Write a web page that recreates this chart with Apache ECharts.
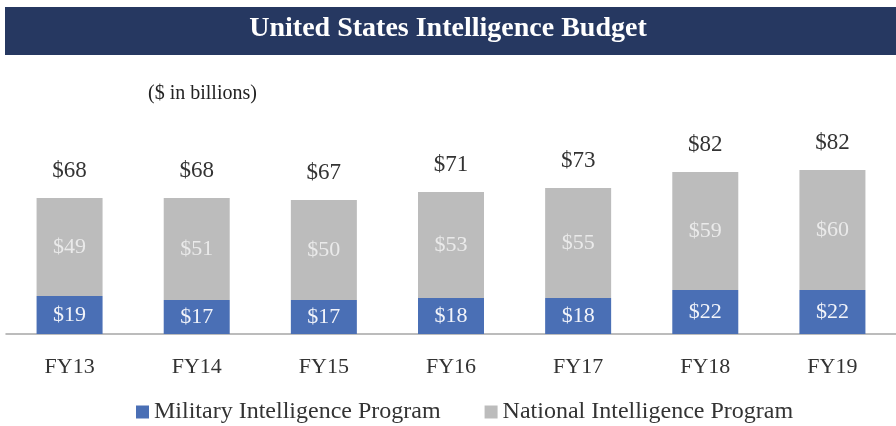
<!DOCTYPE html>
<html lang="en">
<head>
    <meta charset="UTF-8">
    <title>United States Intelligence Budget</title>
    <script src="https://cdn.jsdelivr.net/npm/echarts@6/dist/echarts.min.js"></script>
    <style>
        html, body { margin: 0; padding: 0; background: #fff; }
        #chart { width: 896px; height: 426px; }
    </style>
</head>
<body>
<div id="chart"></div>
<script>
    // 数据 ($ in billions)
    var years = ['FY13', 'FY14', 'FY15', 'FY16', 'FY17', 'FY18', 'FY19'];
    var mip = [19, 17, 17, 18, 18, 22, 22];
    var nip = [49, 51, 50, 53, 55, 59, 60];
    var totals = [68, 68, 67, 71, 73, 82, 82];
    var zeros = [0, 0, 0, 0, 0, 0, 0];

    var serif = '"Liberation Serif", "DejaVu Serif", serif';
    var myChart = echarts.init(document.getElementById('chart'));

    var option = {
        animation: false,
        textStyle: { fontFamily: serif },
        graphic: [
            {
                type: 'rect',
                shape: { x: 5, y: 7, width: 891, height: 48 },
                style: { fill: '#263861' }
            },
            {
                type: 'text',
                left: 'center',
                top: 15,
                style: {
                    text: 'United States Intelligence Budget',
                    fill: '#ffffff',
                    font: 'bold 28px ' + serif
                }
            },
            {
                type: 'text',
                left: 148,
                top: 84,
                style: {
                    text: '($ in billions)',
                    fill: '#222',
                    font: '20px ' + serif
                }
            }
        ],
        legend: {
            bottom: -3,
            left: 131,
            data: ['Military Intelligence Program', 'National Intelligence Program'],
            icon: 'rect',
            itemWidth: 13,
            itemHeight: 13,
            itemGap: 44,
            textStyle: { fontFamily: serif, fontSize: 24, color: '#333' }
        },
        grid: {
            left: 6,
            right: -6,
            top: 134,
            bottom: 92
        },
        xAxis: {
            type: 'category',
            data: years,
            axisLine: { lineStyle: { color: '#a6a6a6', width: 1.5 } },
            axisTick: { show: false },
            axisLabel: {
                margin: 22,
                fontFamily: serif,
                fontSize: 22,
                color: '#333'
            }
        },
        yAxis: {
            type: 'value',
            min: 0,
            max: 100,
            show: false,
            splitLine: { show: false }
        },
        series: [
            {
                name: 'Military Intelligence Program',
                type: 'bar',
                stack: 'b',
                barWidth: 66,
                data: mip,
                itemStyle: { color: '#4a6fb5' },
                label: {
                    show: true,
                    position: 'inside',
                    formatter: '${c}',
                    fontFamily: serif,
                    fontSize: 22,
                    color: '#f2f4fa'
                }
            },
            {
                name: 'National Intelligence Program',
                type: 'bar',
                stack: 'b',
                barWidth: 66,
                data: nip,
                itemStyle: { color: '#bcbcbc' },
                label: {
                    show: true,
                    position: 'inside',
                    formatter: '${c}',
                    fontFamily: serif,
                    fontSize: 22,
                    color: '#eaeaea'
                }
            },
            {
                // 合计标签
                name: 'total',
                type: 'bar',
                stack: 'b',
                barWidth: 66,
                data: zeros,
                itemStyle: { color: 'transparent' },
                label: {
                    show: true,
                    position: 'top',
                    distance: 16,
                    formatter: function (p) {
                        return '$' + totals[p.dataIndex];
                    },
                    fontFamily: serif,
                    fontSize: 23,
                    color: '#333'
                }
            }
        ]
    };
    myChart.setOption(option);
</script>
</body>
</html>
